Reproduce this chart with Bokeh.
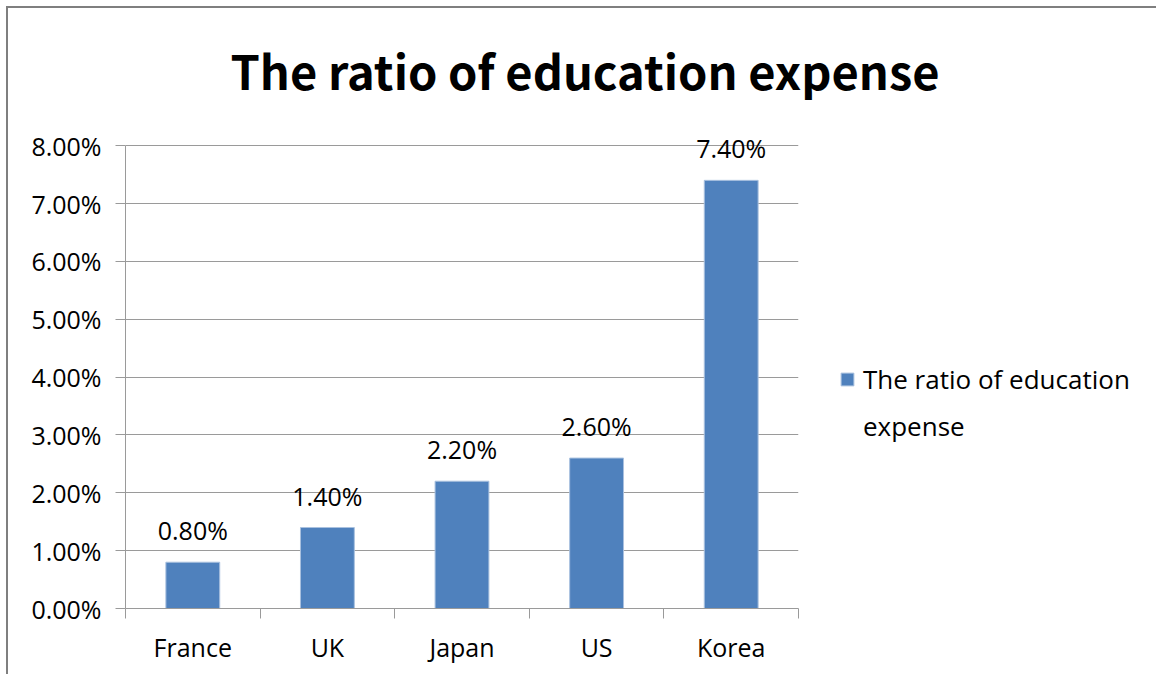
from bokeh.plotting import figure
from bokeh.models import (FactorRange, Range1d, LinearAxis, FixedTicker,
                          SingleIntervalTicker, PrintfTickFormatter, ColumnDataSource,
                          LabelSet, Legend, LegendItem, Title)
from bokeh.core.properties import value
from bokeh.embed import file_html
from bokeh.resources import INLINE

# ---- data ----
countries = ["France", "UK", "Japan", "US", "Korea"]
ratios = [0.8, 1.4, 2.2, 2.6, 7.4]          # percent
series_name = "The ratio of education expense"
legend_lines = ["The ratio of education", "expense"]   # wrapped as in the reference
chart_title = "The ratio of education expense"
y_max = 8

FONT = "Open Sans"
TFONT = "Noto Sans CJK KR"
BAR = "#4F81BD"
BAR_EDGE = "#a9c1df"
GRID = "#9a9a9a"

src = ColumnDataSource(dict(
    country=countries,
    ratio=ratios,
    label=[f"{v:.2f}%" for v in ratios],
))

p = figure(
    frame_width=673, frame_height=486,
    x_range=FactorRange(*countries, range_padding=0),
    y_range=Range1d(0, y_max + 0.4),
    x_axis_location=None, y_axis_location=None,
    output_backend="svg", toolbar_location=None,
    min_border_left=117, min_border_top=114, min_border_right=356, min_border_bottom=66,
)
p.styles = {"margin-left": "6px", "margin-top": "6px",
            "border-left": "2px solid #7f7f7f", "border-top": "2px solid #7f7f7f"}
p.outline_line_color = None
p.background_fill_color = "white"
p.border_fill_color = "white"

# y axis
yax = LinearAxis(
    ticker=SingleIntervalTicker(interval=1, num_minor_ticks=0),
    formatter=PrintfTickFormatter(format="%.2f%%"),
    bounds=(0, y_max),
    axis_line_color=GRID, major_tick_line_color=GRID,
    major_tick_out=10, major_tick_in=0, minor_tick_line_color=None,
    major_label_text_font=FONT, major_label_text_font_size="25px",
    major_label_text_color="black", major_label_standoff=14,
)
p.add_layout(yax, "left")

# x axis: category names at slot centres, ticks at slot boundaries
n = len(countries)
xax = LinearAxis(
    ticker=FixedTicker(ticks=[i + 0.5 for i in range(n)], minor_ticks=list(range(n + 1))),
    major_label_overrides={i + 0.5: c for i, c in enumerate(countries)},
    axis_line_color=GRID, major_tick_line_color=None,
    major_tick_out=10, major_tick_in=0,
    minor_tick_line_color=GRID, minor_tick_out=10, minor_tick_in=0,
    major_label_text_font=FONT, major_label_text_font_size="25px",
    major_label_text_color="black", major_label_standoff=11,
)
p.add_layout(xax, "below")

for g in p.xgrid:
    g.visible = False
p.ygrid.grid_line_color = GRID
p.ygrid.ticker = yax.ticker
p.ygrid.bounds = (0, y_max)

bars = p.vbar(x="country", top="ratio", width=0.4, source=src,
              fill_color=BAR, line_color=BAR_EDGE, line_width=1)
# invisible companion so the wrapped second legend line has no swatch
wrap = p.vbar(x=[], top=[], width=0.4, fill_alpha=0, line_alpha=0)

labels = LabelSet(x="country", y="ratio", text="label", source=src,
                  text_align="center", text_baseline="middle", y_offset=32,
                  text_font=value(FONT), text_font_size="25px", text_color="black")
p.add_layout(labels)

legend = Legend(
    items=[LegendItem(label=legend_lines[0], renderers=[bars]),
           LegendItem(label=legend_lines[1], renderers=[wrap])],
    location=(41, 164),
    glyph_width=16, glyph_height=16, label_standoff=8, label_height=24, spacing=11,
    label_text_font=FONT, label_text_font_size="26px", label_text_color="black",
    border_line_color=None, background_fill_alpha=0, padding=0, margin=0,
)
p.add_layout(legend, "right")

title = Title(text=chart_title, align="left", offset=105,
              text_font=TFONT, text_font_size="47px", text_font_style="bold",
              text_color="black", standoff=38)
p.add_layout(title, "above")

open("out.html", "w").write(file_html(p, INLINE))
